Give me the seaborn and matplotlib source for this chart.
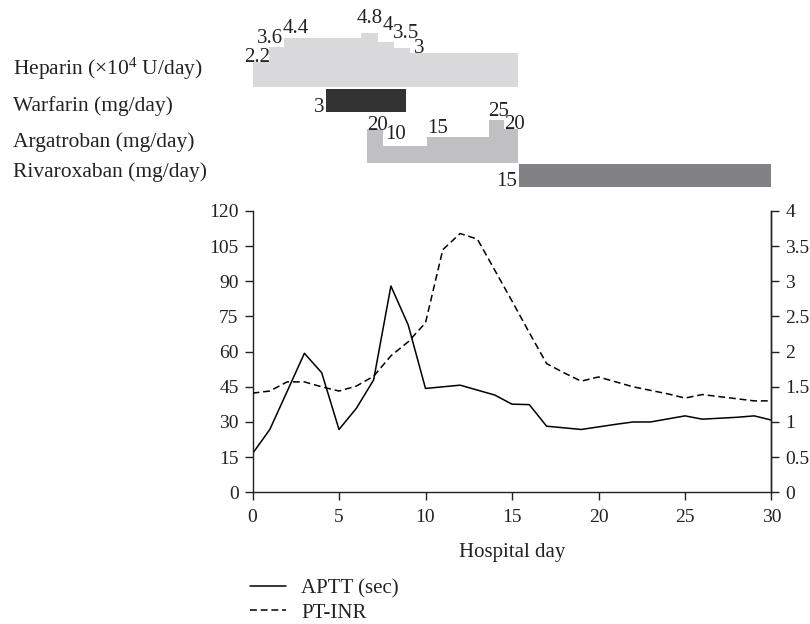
import numpy as np
import pandas as pd
import matplotlib
matplotlib.use("Agg")
import matplotlib.pyplot as plt
from matplotlib.lines import Line2D
from matplotlib.ticker import FuncFormatter
import seaborn as sns

# lab values by hospital day
days = list(range(31))
aptt = [16.5, 26.8, 43, 59.3, 51, 26.8, 35.8, 47.9, 88, 71.4, 44.3, 45, 45.7, 43.6, 41.5,
        37.6, 37.4, 28.2, 27.5, 26.8, 27.9, 29, 30, 30, 31.3, 32.6, 31.2, 31.6, 32, 32.6, 30.8]
inr = [1.41, 1.44, 1.57, 1.57, 1.50, 1.44, 1.51, 1.65, 1.94, 2.14, 2.41, 3.45, 3.68, 3.60, 3.16,
       2.72, 2.27, 1.83, 1.70, 1.58, 1.64, 1.57, 1.50, 1.45, 1.40, 1.34, 1.39, 1.36, 1.33, 1.30, 1.30]

# drug dosing (step edges in days, dose per step)
heparin_edges = [0, 0.95, 1.8, 6.3, 7.26, 8.16, 9.1, 15.35]
heparin_dose = [2.2, 3.6, 4.4, 4.8, 4, 3.5, 3]
warfarin_edges = [4.25, 8.85]
warfarin_dose = [3]
argatroban_edges = [6.6, 7.55, 10.1, 13.65, 14.55, 15.35]
argatroban_dose = [20, 10, 15, 25, 20]
rivaroxaban_edges = [15.4, 30]
rivaroxaban_dose = [15]

drug_names = ["Heparin (×10$^{4}$ U/day)", "Warfarin (mg/day)",
              "Argatroban (mg/day)", "Rivaroxaban (mg/day)"]

sns.set_style("ticks")
plt.rcParams['font.family'] = ['Liberation Serif', 'DejaVu Serif']
plt.rcParams['mathtext.fontset'] = 'custom'
plt.rcParams['mathtext.rm'] = 'Liberation Serif'
plt.rcParams['mathtext.it'] = 'Liberation Serif'

W, H = 810, 624
fig = plt.figure(figsize=(W / 100, H / 100), dpi=100)

def fx(px):
    return px / W

def fy(py):
    return 1 - py / H

x0, x1 = 252.5, 771.5
ytop, ybot = 211, 492.3
ink = '#222222'

ax = fig.add_axes([fx(x0), fy(ybot), fx(x1 - x0), (ybot - ytop) / H])
df = pd.DataFrame({'day': days, 'aptt': aptt, 'inr': inr})
sns.lineplot(data=df, x='day', y='aptt', ax=ax, color='black', lw=1.1)
ax2 = ax.twinx()
sns.lineplot(data=df, x='day', y='inr', ax=ax2, color='black', lw=1.1, linestyle=(0, (4.5, 2.5)))

ax.set_xlim(0, 30)
ax.set_ylim(0, 120)
ax2.set_ylim(0, 4)
ax.set_xticks(range(0, 31, 5))
ax.set_yticks(range(0, 121, 15))
ax2.set_yticks(np.arange(0, 4.01, 0.5))
ax2.yaxis.set_major_formatter(FuncFormatter(lambda v, p: f"{v:g}"))
ax.set_xlabel("Hospital day", fontsize=15, color=ink, labelpad=12)
ax.set_ylabel("")
ax2.set_ylabel("")
for a in (ax, ax2):
    a.spines['top'].set_visible(False)
    for s in a.spines.values():
        s.set_color(ink)
        s.set_linewidth(1.0)
    a.tick_params(labelsize=14, colors=ink, length=6, width=1.0, pad=4)
ax.tick_params(axis='x', pad=6)
ax2.spines['left'].set_visible(False)
ax2.spines['bottom'].set_visible(False)

handles = [Line2D([], [], color='black', lw=1.1),
           Line2D([], [], color='black', lw=1.1, linestyle=(0, (4.5, 2.5)))]
fig.legend(handles, ["APTT (sec)", "PT-INR"], loc='upper left',
           bbox_to_anchor=(fx(250), fy(579)), frameon=False, fontsize=15,
           borderpad=0, borderaxespad=0, handlelength=1.75, handletextpad=0.7,
           labelspacing=0.22, labelcolor=ink)

# drug panel, y in pixel units (0 at top of figure)
top_h = 195
axd = fig.add_axes([fx(x0), fy(top_h), fx(x1 - x0), top_h / H])
axd.set_xlim(0, 30)
axd.set_ylim(top_h, 0)
axd.axis('off')

hep_base, hep_k = 87.3, 11.3
arg_base, arg_k = 163.3, 1.73
axd.stairs([hep_base - d * hep_k for d in heparin_dose], heparin_edges,
           baseline=hep_base, fill=True, color='#d9d9db', lw=0)
axd.stairs([arg_base - d * arg_k for d in argatroban_dose], argatroban_edges,
           baseline=arg_base, fill=True, color='#c0c0c3', lw=0)
axd.stairs([89], warfarin_edges, baseline=111.7, fill=True, color='#333333', lw=0)
axd.stairs([164], rivaroxaban_edges, baseline=186.7, fill=True, color='#828286', lw=0)

lab_fs = 15
hep_dx = [-0.5, -0.71, -0.08, -0.3, 0.25, -0.04, 0.22]
hep_gap = [0, 4, 5, 10, 12, 10, 0]
for e, d, dx, g in zip(heparin_edges, heparin_dose, hep_dx, hep_gap):
    axd.text(e + dx, hep_base - d * hep_k - g, f"{d:g}", ha='left', va='baseline',
             fontsize=lab_fs, color=ink, clip_on=False)
arg_dx = [0, 0.1, 0, -0.05, 0]
arg_gap = [-1, 7, 4, 4, 0]
for e, d, dx, g in zip(argatroban_edges, argatroban_dose, arg_dx, arg_gap):
    axd.text(e + dx, arg_base - d * arg_k - g, f"{d:g}", ha='left', va='baseline',
             fontsize=lab_fs, color=ink, clip_on=False)
axd.text(warfarin_edges[0] - 0.1, 111.7, f"{warfarin_dose[0]:g}", ha='right',
         va='baseline', fontsize=lab_fs, color=ink)
axd.text(rivaroxaban_edges[0] - 0.1, 186.5, f"{rivaroxaban_dose[0]:g}", ha='right',
         va='baseline', fontsize=lab_fs, color=ink)

for name, py in zip(drug_names, [75, 111, 146.7, 177.3]):
    fig.text(fx(12.7), fy(py), name, ha='left', va='baseline', fontsize=15.5, color=ink)

fig.savefig("out.png", dpi=100)
